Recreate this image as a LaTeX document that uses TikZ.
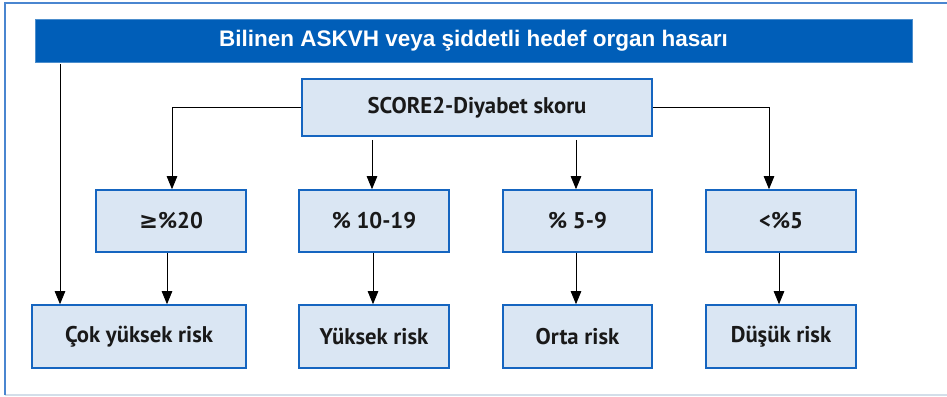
\documentclass[tikz,border=0pt]{standalone}
\usepackage{fontspec}
\setmainfont{PT Sans}
\newfontfamily\bannerfont{Liberation Sans}
\newfontfamily\symfont{DejaVu Sans}
\usetikzlibrary{arrows.meta}
\definecolor{bannerblue}{HTML}{005EB8}
\definecolor{boxfill}{HTML}{DAE6F3}
\definecolor{boxedge}{HTML}{1565C0}
\definecolor{frameblue}{HTML}{4A86D0}
\definecolor{framegray}{HTML}{D3DEE9}
\tikzset{
  x=1pt, y=-1pt,
  riskbox/.style={draw=boxedge, line width=1.6pt, fill=boxfill, inner sep=0pt,
    font=\fontsize{22.7}{26}\selectfont\bfseries, text=black!90},
  arr/.style={draw=black, line width=0.8pt, -{Triangle[length=13pt,width=10.5pt]}},
}
\begin{document}
\begin{tikzpicture}
\useasboundingbox (0,0) rectangle (947,396);
% outer frame
\draw[framegray, line width=1.2pt] (5,395) -- (947,395);
\draw[frameblue, line width=1.2pt] (5,395) -- (5,3) -- (947,3);

% banner
\node[fill=bannerblue, draw=bannerblue!70!white, line width=0.6pt, minimum width=877pt, minimum height=43pt,
  inner sep=0pt, text=white, font=\bannerfont\fontsize{22.5}{26}\selectfont\bfseries]
  (banner) at (473.5,40.5) {Bilinen ASKVH veya şiddetli hedef organ hasarı};

% score
\node[riskbox, minimum width=350pt, minimum height=57pt] (score) at (477,107.5) {SCORE2-Diyabet skoru};

% score levels
\node[riskbox, minimum width=150pt, minimum height=62pt] (l1) at (171,221) {{\symfont ≥}\%20};
\node[riskbox, minimum width=150pt, minimum height=62pt] (l2) at (374,221) {\% 10-19};
\node[riskbox, minimum width=149pt, minimum height=62pt] (l3) at (577.5,221) {\% 5-9};
\node[riskbox, minimum width=150pt, minimum height=62pt] (l4) at (781,221) {<\%5};

% risk categories
\node[riskbox, minimum width=214pt, minimum height=63pt] (b1) at (139,336.5) {Çok yüksek risk};
\node[riskbox, minimum width=150pt, minimum height=63pt] (b2) at (374,336.5) {Yüksek risk};
\node[riskbox, minimum width=149pt, minimum height=63pt] (b3) at (577.5,336.5) {Orta risk};
\node[riskbox, minimum width=150pt, minimum height=63pt] (b4) at (781,336.5) {Düşük risk};

% connectors from the score box
\draw[arr] (score.west) -| (l1.north -| 172,0);
\draw[arr] (score.east) -| (l4.north -| 769,0);
\draw[arr, shorten <=3pt] (score.south -| 372,0) -- (l2.north -| 372,0);
\draw[arr, shorten <=3pt] (score.south -| 576,0) -- (l3.north -| 576,0);

% connectors to the risk categories
\draw[arr, shorten <=2pt] (banner.south -| 60,0) -- (b1.north -| 60,0);
\draw[arr] (l1.south -| 167,0) -- (b1.north -| 167,0);
\draw[arr] (l2.south -| 373,0) -- (b2.north -| 373,0);
\draw[arr] (l3.south -| 576,0) -- (b3.north -| 576,0);
\draw[arr] (l4.south -| 779,0) -- (b4.north -| 779,0);
\end{tikzpicture}
\end{document}
